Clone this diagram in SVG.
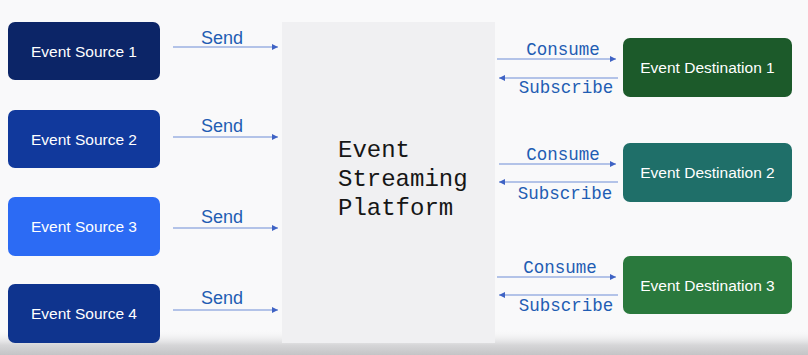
<svg xmlns="http://www.w3.org/2000/svg" width="808" height="355" viewBox="0 0 808 355">
  <style>
    .src text, .dst text { fill: #ffffff; font-family: "Liberation Sans", Arial, sans-serif; font-size: 15.5px; text-anchor: middle; }
    .lbl { fill: #1f5db3; }
    .sans { font-family: "Liberation Sans", Arial, sans-serif; font-size: 18px; }
    .mono { font-family: "Liberation Mono", "DejaVu Sans Mono", monospace; font-size: 17.5px; }
    .edge { stroke: #6f8ed6; stroke-width: 1.2; fill: none; }
    .title { fill: #161616; font-family: "Liberation Mono", "DejaVu Sans Mono", monospace; font-size: 24px; }
  </style>
  <defs>
    <marker id="arrow" viewBox="0 0 6 6" refX="6" refY="3" markerWidth="6" markerHeight="6" orient="auto" markerUnits="userSpaceOnUse">
      <path d="M0,0 L6,3 L0,6 Z" fill="#3f63c4"/>
    </marker>
    <linearGradient id="floor" x1="0" y1="0" x2="0" y2="1">
      <stop offset="0" stop-color="#f7f7f8" stop-opacity="0"/>
      <stop offset="0.6" stop-color="#d6d6d8"/>
      <stop offset="1" stop-color="#c4c4c6"/>
    </linearGradient>
  </defs>

  <!-- backdrop -->
  <rect width="808" height="355" fill="#f9f9fa"/>
  <rect x="0" y="330" width="808" height="25" fill="url(#floor)"/>

  <!-- central platform -->
  <g id="platform">
    <rect x="282" y="22" width="213" height="321" fill="#f0f0f2"/>
    <text class="title" x="338" y="157">Event</text>
    <text class="title" x="338" y="186">Streaming</text>
    <text class="title" x="338" y="215">Platform</text>
  </g>

  <!-- event sources -->
  <g id="source1" class="src">
    <rect x="8" y="22" width="152" height="58" rx="7" fill="#0c2567"/>
    <text x="84" y="57">Event Source 1</text>
  </g>
  <g id="source2" class="src">
    <rect x="8" y="110" width="152" height="58" rx="7" fill="#11399c"/>
    <text x="84" y="145">Event Source 2</text>
  </g>
  <g id="source3" class="src">
    <rect x="8" y="197" width="152" height="59" rx="7" fill="#2c6bf4"/>
    <text x="84" y="232">Event Source 3</text>
  </g>
  <g id="source4" class="src">
    <rect x="8" y="284" width="152" height="59" rx="7" fill="#0f348e"/>
    <text x="84" y="319">Event Source 4</text>
  </g>

  <!-- event destinations -->
  <g id="destination1" class="dst">
    <rect x="623" y="38" width="169" height="59" rx="7" fill="#1c5a2a"/>
    <text x="707.5" y="73">Event Destination 1</text>
  </g>
  <g id="destination2" class="dst">
    <rect x="623" y="143" width="169" height="59" rx="7" fill="#1f6f69"/>
    <text x="707.5" y="178">Event Destination 2</text>
  </g>
  <g id="destination3" class="dst">
    <rect x="623" y="256" width="169" height="58" rx="7" fill="#2a793d"/>
    <text x="707.5" y="291">Event Destination 3</text>
  </g>

  <!-- connectors -->
  <g id="connectors">
    <line class="edge" x1="173" y1="47" x2="278" y2="47" marker-end="url(#arrow)"/>
    <line class="edge" x1="173" y1="137" x2="278" y2="137" marker-end="url(#arrow)"/>
    <line class="edge" x1="173" y1="228" x2="278" y2="228" marker-end="url(#arrow)"/>
    <line class="edge" x1="173" y1="310" x2="278" y2="310" marker-end="url(#arrow)"/>

    <line class="edge" x1="497" y1="59" x2="616" y2="59" marker-end="url(#arrow)"/>
    <line class="edge" x1="618" y1="78" x2="499" y2="78" marker-end="url(#arrow)"/>
    <line class="edge" x1="499" y1="164" x2="616" y2="164" marker-end="url(#arrow)"/>
    <line class="edge" x1="618" y1="182" x2="499" y2="182" marker-end="url(#arrow)"/>
    <line class="edge" x1="497" y1="277" x2="616" y2="277" marker-end="url(#arrow)"/>
    <line class="edge" x1="618" y1="295" x2="499" y2="295" marker-end="url(#arrow)"/>

    <text class="lbl sans" x="222" y="44" text-anchor="middle">Send</text>
    <text class="lbl sans" x="222" y="132" text-anchor="middle">Send</text>
    <text class="lbl sans" x="222" y="223" text-anchor="middle">Send</text>
    <text class="lbl sans" x="222" y="304" text-anchor="middle">Send</text>

    <text class="lbl mono" x="563" y="55" text-anchor="middle">Consume</text>
    <text class="lbl mono" x="566" y="93" text-anchor="middle">Subscribe</text>
    <text class="lbl mono" x="563" y="160" text-anchor="middle">Consume</text>
    <text class="lbl mono" x="565" y="199" text-anchor="middle">Subscribe</text>
    <text class="lbl mono" x="560" y="273" text-anchor="middle">Consume</text>
    <text class="lbl mono" x="566" y="311" text-anchor="middle">Subscribe</text>
  </g>
</svg>
